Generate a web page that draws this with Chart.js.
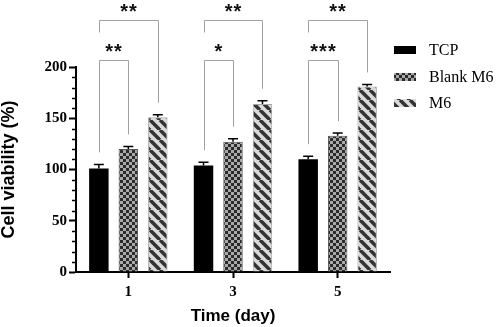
<!DOCTYPE html>
<html>
<head>
<meta charset="utf-8">
<script src="https://cdn.jsdelivr.net/npm/chart.js@4/dist/chart.umd.min.js"></script>
<style>
	html, body { margin: 0; padding: 0; background: #fff; }
	#wrap { width: 498px; height: 327px; }
</style>
</head>
<body>
<div id="wrap"><canvas id="grafico"></canvas></div>
<script>
// datos
const dias = ["1", "3", "5"];
const seriesNombres = ["TCP", "Blank M6", "M6"];
const tcp = [101, 104, 110];
const blank = [120, 127, 133];
const m6 = [151, 164, 181];
const tcpErr = [4, 3, 3];
const blankErr = [2.5, 3, 2.5];
const m6Err = [2.5, 3, 2];
// significancia: TCP vs Blank M6 (abajo) y TCP vs M6 (arriba)
const sigBlank = ["**", "*", "***"];
const sigM6 = ["**", "**", "**"];
const nivelCorchetes = [207, 246];

// patrones de relleno
function patronDamero() {
	const c = document.createElement("canvas");
	c.width = 6; c.height = 6;
	const g = c.getContext("2d");
	g.fillStyle = "#a9a9a9";
	g.fillRect(0, 0, 6, 6);
	g.fillStyle = "#2b2b2b";
	g.fillRect(0, 0, 3, 3);
	g.fillRect(3, 3, 3, 3);
	return g.createPattern(c, "repeat");
}

function patronRayas() {
	const s = 10;
	const c = document.createElement("canvas");
	c.width = s; c.height = s;
	const g = c.getContext("2d");
	g.fillStyle = "#dadada";
	g.fillRect(0, 0, s, s);
	g.strokeStyle = "#333";
	g.lineWidth = 3.5;
	for (const k of [-s, 0, s]) {
		g.beginPath();
		g.moveTo(k, 0);
		g.lineTo(k + s, s);
		g.stroke();
	}
	return g.createPattern(c, "repeat");
}

const errores = [tcpErr, blankErr, m6Err];

const extras = {
	id: "extras",
	afterDatasetsDraw(chart) {
		const ctx = chart.ctx;
		const y = chart.scales.y;
		const area = chart.chartArea;

		// barras de error
		ctx.save();
		ctx.strokeStyle = "#000";
		ctx.lineWidth = 1.5;
		chart.data.datasets.forEach((ds, i) => {
			chart.getDatasetMeta(i).data.forEach((bar, j) => {
				const top = y.getPixelForValue(ds.data[j]);
				const e = y.getPixelForValue(ds.data[j] + errores[i][j]);
				ctx.beginPath();
				ctx.moveTo(bar.x, top);
				ctx.lineTo(bar.x, e);
				ctx.moveTo(bar.x - 5, e);
				ctx.lineTo(bar.x + 5, e);
				ctx.stroke();
			});
		});
		ctx.restore();

		// ticks menores del eje y
		ctx.save();
		ctx.strokeStyle = "#000";
		ctx.lineWidth = 1.5;
		for (let v = 10; v < 200; v += 10) {
			if (v % 50 === 0) continue;
			const py = Math.round(y.getPixelForValue(v)) + 0.5;
			ctx.beginPath();
			ctx.moveTo(area.left, py);
			ctx.lineTo(area.left - 4, py);
			ctx.stroke();
		}
		ctx.restore();

		// corchetes de significancia
		const m0 = chart.getDatasetMeta(0).data;
		const m1 = chart.getDatasetMeta(1).data;
		const m2 = chart.getDatasetMeta(2).data;
		ctx.save();
		ctx.strokeStyle = "#a0a0a0";
		ctx.lineWidth = 1;
		ctx.fillStyle = "#111";
		ctx.font = "bold 20px 'Liberation Sans'";
		ctx.textAlign = "center";
		ctx.textBaseline = "alphabetic";
		ctx.letterSpacing = "1px";
		const gap = 12;
		dias.forEach((d, j) => {
			const x0 = Math.round(m0[j].x) + 0.5;
			const x1 = Math.round(m1[j].x) + 0.5;
			const x2 = Math.round(m2[j].x) + 0.5;
			const yb = Math.round(y.getPixelForValue(nivelCorchetes[0])) + 0.5;
			const yt = Math.round(y.getPixelForValue(nivelCorchetes[1])) + 0.5;
			const e0 = y.getPixelForValue(tcp[j] + tcpErr[j]) - gap;
			const e1 = y.getPixelForValue(blank[j] + blankErr[j]) - gap;
			const e2 = y.getPixelForValue(m6[j] + m6Err[j]) - gap;

			ctx.beginPath();
			ctx.moveTo(x0, e0);
			ctx.lineTo(x0, yb);
			ctx.lineTo(x1, yb);
			ctx.lineTo(x1, e1);
			ctx.stroke();

			ctx.beginPath();
			ctx.moveTo(x0, yt + 12);
			ctx.lineTo(x0, yt);
			ctx.lineTo(x2, yt);
			ctx.lineTo(x2, e2);
			ctx.stroke();

			ctx.fillText(sigBlank[j], (x0 + x1) / 2, yb - 3);
			ctx.fillText(sigM6[j], (x0 + x2) / 2, yt - 3);
		});
		ctx.restore();

		// leyenda
		ctx.save();
		const ly = [50, 77, 103];
		ctx.font = "16px 'Liberation Serif'";
		ctx.textBaseline = "middle";
		ctx.textAlign = "left";
		chart.data.datasets.forEach((ds, i) => {
			ctx.fillStyle = ds.backgroundColor;
			ctx.fillRect(394, ly[i] - 4, 22, 8);
			ctx.fillStyle = "#000";
			ctx.fillText(ds.label, 429, ly[i] + 1);
		});
		ctx.restore();
	}
};

const fuenteTicks = { family: "'Liberation Serif'", size: 15, weight: "bold" };

new Chart(document.getElementById("grafico"), {
	type: "bar",
	data: {
		labels: dias,
		datasets: [
			{ label: seriesNombres[0], data: tcp, backgroundColor: "#000", borderColor: "#000", borderWidth: 0 },
			{ label: seriesNombres[1], data: blank, backgroundColor: patronDamero(), borderColor: "#555", borderWidth: 1 },
			{ label: seriesNombres[2], data: m6, backgroundColor: patronRayas(), borderColor: "#a5a5a5", borderWidth: 1 }
		]
	},
	options: {
		responsive: true,
		maintainAspectRatio: false,
		animation: false,
		devicePixelRatio: 1,
		categoryPercentage: 0.845,
		barPercentage: 0.66,
		layout: { padding: { top: 67, right: 108, left: 0, bottom: 0 } },
		plugins: {
			legend: { display: false },
			tooltip: { enabled: false }
		},
		scales: {
			x: {
				afterFit: s => { s.height = 55; },
				grid: { offset: false, drawOnChartArea: false, drawTicks: true, tickLength: 6, tickWidth: 2, tickColor: "#000" },
				border: { display: true, width: 2, color: "#000" },
				ticks: { color: "#000", font: fuenteTicks, padding: 5 },
				title: { display: true, text: "Time (day)", color: "#000",
					font: { family: "'Liberation Sans'", size: 17, weight: "bold" }, padding: { top: 0, bottom: 0 } }
			},
			y: {
				min: 0,
				max: 200,
				afterFit: s => { s.width = 76; },
				grid: { drawOnChartArea: false, drawTicks: true, tickLength: 7, tickWidth: 2, tickColor: "#000" },
				border: { display: true, width: 2, color: "#000" },
				ticks: { stepSize: 50, color: "#000", font: fuenteTicks, padding: 2 },
				title: { display: true, text: "Cell viability (%)", color: "#000",
					font: { family: "'Liberation Sans'", size: 18, weight: "bold", lineHeight: 1 }, padding: 0 }
			}
		}
	},
	plugins: [extras]
});
</script>
</body>
</html>
